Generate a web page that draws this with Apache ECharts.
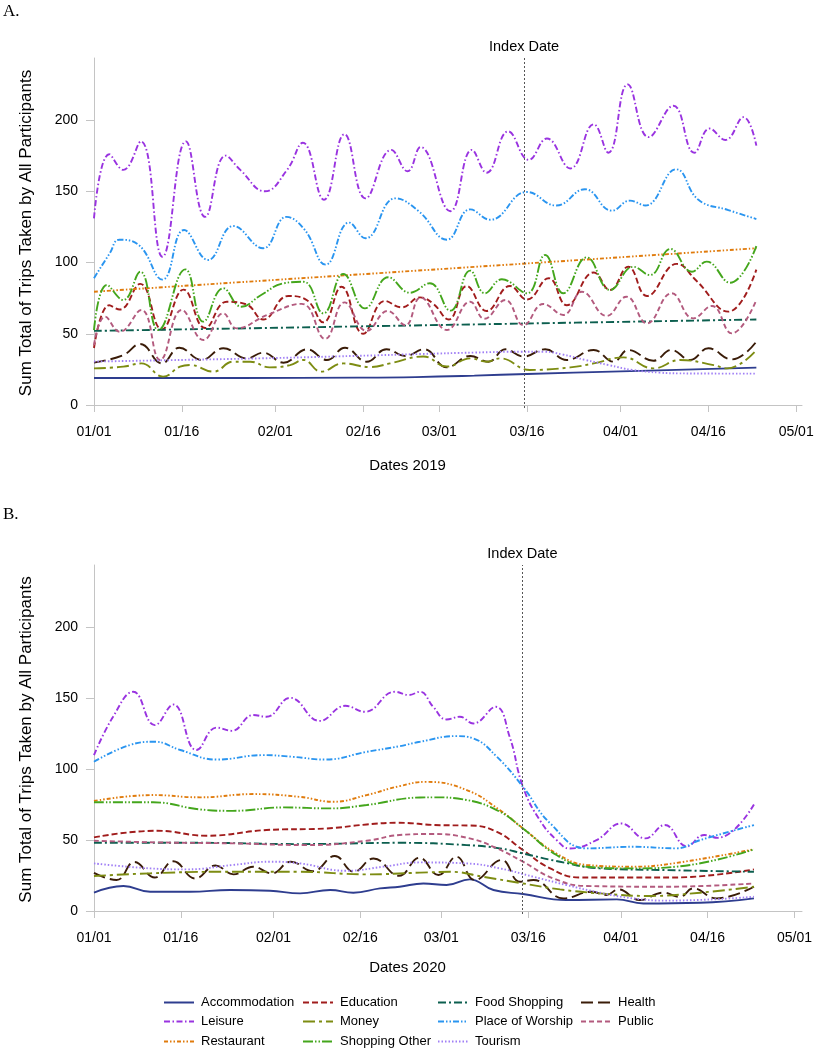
<!DOCTYPE html>
<html>
<head>
<meta charset="utf-8">
<script src="https://cdn.jsdelivr.net/npm/echarts@6/dist/echarts.min.js"></script>
<style>
html,body{margin:0;padding:0;background:#fff;}
#chart{width:815px;height:1050px;}
</style>
</head>
<body>
<div id="chart"></div>
<script>
// ---- tick positions (day offset from 01/01) and labels ----
const tickLabels = ['01/01','01/16','02/01','02/16','03/01','03/16','04/01','04/16','05/01'];
const ticks2019 = [0,15,31,46,59,74,90,105,120];
const ticks2020 = [0,15,31,46,60,75,91,106,121];
const yTicks = [0,50,100,150,200];
const indexDay2019 = 73.5;
const indexDay2020 = 74;

const categories = ['Accommodation','Education','Food Shopping','Health','Leisure','Money','Place of Worship','Public','Restaurant','Shopping Other','Tourism'];

// ---- 2019 (panel A): [day, trips] ----
const accommodation2019 = [[0,19],[25,19],[45,19.2],[55,19.6],[65,20.6],[74,21.8],[90,23.6],[113.2,26.2]];
const education2019 = [[0,40],[2.6,70],[4.4,67],[7.9,85],[11.6,53],[15.3,81],[19,54],[22.7,72.5],[26.1,70.5],[28.9,60],[33.2,76.5],[36.4,73.5],[39.2,58],[42.3,83],[46,50],[49.7,73],[52.6,68.5],[55.7,75.5],[58,71],[60.6,60],[63.7,83.5],[67.1,66],[71.1,83.5],[74,74],[77.7,89],[80.8,70],[85.4,93],[88.2,80.7],[91.3,97],[94.5,76.5],[99.6,99],[103,87],[108.4,65.5],[113.2,95]];
const food2019 = [[0,52],[40,54.8],[74,57.2],[113.2,60]];
const health2019 = [[0,29.7],[5,35],[7.9,42.8],[11.6,29.2],[14.6,40.2],[18.4,31.6],[22.1,39.8],[26.1,32.7],[28.9,36.7],[32.4,29.7],[36.4,39.1],[39.8,31.6],[42.9,40.2],[46.6,30.4],[50,39.1],[53.2,34.4],[56.4,39.1],[60.3,26.4],[64.3,34.4],[67.4,30.4],[70.3,39.1],[73.4,34],[77.1,39.1],[80.8,31.6],[85.4,38.6],[88.8,30.4],[91.3,38.6],[95.6,31.1],[98.7,38.6],[101.9,31.6],[105,39.8],[109,32],[113.2,44.5]];
const leisure2019 = [[0,131],[2.6,176],[5,165],[8,185],[11.7,104],[15.7,185],[19,132],[22.5,175],[25,165],[29.2,150],[33,165],[35.7,184],[39.3,144],[42.8,190],[46.4,145],[50.8,179],[53.6,164],[55.8,181],[60.9,136],[64.6,179],[67.1,163],[70.8,192],[74.3,172],[77.4,187],[81.4,166],[85.4,197],[87.9,177],[91.2,225],[94.8,188],[99,210],[102.6,177],[105.2,194],[107.9,186],[111,202],[113.2,182]];
const money2019 = [[0,25.7],[5,26.9],[8.1,29.2],[11.8,19.9],[14.7,26.9],[16.4,28.1],[20.4,23.4],[23.8,30.4],[26.7,30.4],[30,26.4],[33.5,28],[35.8,31.6],[38.8,23.4],[42.6,29.2],[47.2,26.6],[50.6,29.2],[56.3,34],[60.3,27],[64.3,32.7],[67.1,30.4],[69.4,32.7],[74.5,24.6],[81.4,26.4],[85.4,29.2],[90.5,33.4],[95.6,25.7],[100.2,31.6],[105.9,28],[108.2,25.7],[113.2,38.6]];
const worship2019 = [[0,89],[2.7,106.5],[4.3,116],[7.6,112.5],[11.7,88],[15.4,122.8],[19.5,101.8],[23.8,125.6],[28.9,110],[32.9,132],[36,123],[39.6,98.5],[43.6,128],[46.4,117],[51.5,145],[55.6,135.6],[60.3,116],[64.3,137.3],[67.7,130],[74,149.5],[79,140],[83.9,151.4],[88.5,136.4],[91.6,143.4],[94.2,140],[99.5,165.4],[103.3,144],[108.4,136.8],[113.2,130.5]];
const public2019 = [[0,42],[1.9,62],[4.4,51.4],[8.1,66.7],[11.3,31.6],[15,66.7],[18.7,45.6],[22.1,64.3],[24.4,53.8],[29.5,63],[35.5,71],[39.5,46.4],[42.8,72],[46.6,52],[50.2,66],[53.2,56],[55.8,75.5],[60.3,52.6],[64.3,72.5],[66.7,60.5],[70.3,73.7],[73.4,56],[76.8,70.9],[80.2,63.2],[83.4,79.5],[87.6,62.5],[91,76],[94.5,57.3],[98.7,78.4],[102.4,60.8],[105.6,69.5],[109,50.3],[113.2,73.7]];
const restaurant2019 = [[0,79.5],[74.2,99.4],[113.2,110]];
const shopping2019 = [[0,52.6],[2.2,84.2],[5,73.7],[7.9,93.5],[11,52.6],[15.6,95.2],[18.7,58.5],[22.1,81.9],[25.2,69],[28.5,77],[32.4,85.4],[35.8,86.5],[39.2,64.3],[42.6,91.9],[46.3,67.8],[50.3,89.6],[54,78.8],[57.4,85.4],[60.9,66.2],[64.3,94.3],[66.8,78.4],[69.7,88.2],[74,78.4],[77.1,105.3],[80.2,78.4],[84.2,103.6],[88.2,80.7],[92.2,97],[95,91.2],[98.5,109.5],[102.2,93.5],[104.7,100.6],[108.7,85.8],[113.2,111.5]];
const tourism2019 = [[0,30.5],[28,32.7],[45,34.5],[56,35.8],[65,36.8],[73,37.4],[77,37.4],[80,35.5],[84,31.6],[88,28],[92,24.6],[96.7,22.7],[100,22.2],[113.2,22]];

// ---- 2020 (panel B): [day, trips] ----
const accommodation2020 = [[0,12.9],[5.1,17.6],[9.7,13.6],[16.6,13.6],[23.5,14.8],[30.4,14.3],[35.6,12.4],[40.8,14.8],[44.8,12.9],[49.4,15.9],[52.8,17.1],[56.9,19.4],[60.9,18.3],[64.9,22.3],[69,14.8],[74.1,12],[81.6,7.7],[90.3,8.2],[94.9,5.3],[104.7,5.8],[114,8.9]];
const education2020 = [[0,51.8],[10.8,56.5],[19.5,53],[29.8,57],[40.2,58.1],[47.1,60.9],[52.3,62.1],[59.8,60.4],[64.9,60.2],[69.6,55.7],[74.1,42.9],[78.8,30],[83.9,23.6],[93.1,23.6],[100,23.6],[114,29.3]];
const food2020 = [[0,48],[18.3,48],[35.6,47.1],[52.8,48],[64.4,46.4],[70.1,44.1],[74.1,40.5],[80.5,34.7],[87.4,30],[98.9,28.8],[114,27.6]];
const health2020 = [[0,26.9],[3.9,21.8],[7,34.5],[10.5,23.6],[13.7,35],[17.5,22.9],[21,32],[24.1,25.8],[27.5,31.2],[30.7,26.5],[34,34.7],[37.8,28],[41.6,38.7],[44.9,27.6],[48.3,37],[52.7,24.8],[56.2,37.5],[59.5,25.3],[62.6,38.2],[65.8,21.8],[70.4,35.9],[73.6,20.6],[75.9,21.8],[81.1,8.9],[86,13.6],[88.5,11.3],[90.6,15.2],[94.3,7.7],[98.3,12.9],[101.2,10],[103.5,15.9],[107.5,8.9],[114,17.1]];
const leisure2020 = [[0,109.7],[3.3,136.7],[6.8,154.3],[10.5,130.8],[13.7,145.3],[17.7,113.3],[21.2,129.1],[23.8,126.8],[27.5,137.9],[29.8,136.7],[33.9,150],[39,133.8],[43.4,144.4],[46.8,140.2],[52,154.3],[54.4,152],[56.3,154.3],[58.6,143.7],[60.9,134.8],[63.2,136.7],[65.5,132],[69.4,143.7],[71.8,122.6],[74.1,87.4],[77,64],[79.9,50],[82.2,44],[86.8,49.9],[91.1,61.6],[95.2,51.1],[98.6,60.5],[102.4,45.5],[105.4,53.5],[107.7,51.5],[114,75]];
const money2020 = [[0,24.6],[9.7,26.5],[21.2,27.6],[35.6,27.6],[47.1,25.8],[56.3,27],[61.5,27.6],[67.2,24.1],[74.1,19.4],[80.5,15.2],[87.4,12.4],[96,10.6],[104.7,12.9],[114,17.1]];
const worship2020 = [[0,105],[6.2,116.8],[10.5,119.1],[14.9,113.3],[21.2,106.6],[29.2,109.7],[34.4,108.5],[39.9,106.6],[47.1,112],[52.8,116],[56.3,119.1],[62.6,123.1],[65.5,121.5],[69.6,108.5],[74.1,87.4],[78.8,61.7],[85.1,44.1],[93.1,45.2],[100.6,44.1],[104.7,49.9],[114,60.5]];
const public2020 = [[0,49.5],[10.8,48.3],[24,47.6],[36.7,46.4],[47.1,49.4],[52.8,53.5],[58.6,54.2],[64.9,51.1],[69.6,44.1],[74.1,34.7],[79.3,23],[85.1,17.6],[98.9,17.1],[114,19.4]];
const restaurant2020 = [[0,77.4],[10.2,81.6],[18.3,80],[27.5,82.3],[35.6,80.3],[41.3,76.9],[47.1,81.6],[52.8,87.9],[57.4,90.9],[64.4,85.1],[70.1,71],[74.1,58.1],[79.9,40.5],[85.1,32.4],[93.1,31.2],[100,33.5],[114,43.4]];
const shopping2020 = [[0,76.5],[10.2,76.5],[18.3,71.5],[24,70.5],[32.7,72.9],[40.8,72.2],[47.1,74.6],[56.3,79.9],[58.6,80],[64.4,78.1],[70.1,69.9],[74.1,58.1],[79.9,39.4],[85.1,31.2],[93.1,30],[100.6,31.2],[114,43.4]];
const tourism2020 = [[0,33.5],[9.7,30],[16,29.3],[24,32.4],[30.4,34.7],[35.6,33.5],[43.6,28.3],[50,31.2],[56.3,34.2],[64.4,33.5],[70.1,30],[75.9,24.1],[81.6,18.3],[87.4,12.9],[93.1,8.9],[98.9,7.3],[114,10]];

const data2019 = [accommodation2019, education2019, food2019, health2019, leisure2019, money2019, worship2019, public2019, restaurant2019, shopping2019, tourism2019];
const data2020 = [accommodation2020, education2020, food2020, health2020, leisure2020, money2020, worship2020, public2020, restaurant2020, shopping2020, tourism2020];

// ---- styles ----
const colors = ['#2e3d8f','#a01c1c','#0c5f4f','#3a1c08','#9933e0','#7d8c12','#2a95f0','#b35a7e','#e07b0c','#44a61c','#a07ff5'];
const dashes = [
  'solid',
  [6,3],
  [8,3,2,3],
  [12,5],
  [6,2.5,1.5,2.5],
  [12,4,3,4],
  [6,2,1.5,2,1.5,2],
  [5,3],
  [4,2,1.5,2,1.5,2],
  [10,2,1.5,2,1.5,2],
  [1.5,2]
];
const legendPos = [
  [163,996],[302,996],[437,996],[580,996],
  [163,1015],[302,1015],[437,1015],[580,1015],
  [163,1035],[302,1035],[437,1035]
];

const FONT = '"Liberation Sans", Arial, sans-serif';

function makeXAxis(gridIndex, ticks, max){
  const map = {};
  ticks.forEach((t,i)=>{ map[t] = tickLabels[i]; });
  return {
    type:'value', gridIndex:gridIndex, min:-0.34, max:max,
    splitLine:{show:false},
    axisLine:{show:true, lineStyle:{color:'#c4c4c4', width:1}},
    axisTick:{show:true, customValues:ticks, length:7, inside:false, lineStyle:{color:'#c4c4c4'}},
    axisLabel:{customValues:ticks, formatter:(v)=> map[v] !== undefined ? map[v] : '', fontSize:14, color:'#000', margin:17, fontFamily:FONT}
  };
}
function makeYAxis(gridIndex){
  return {
    type:'value', gridIndex:gridIndex, min:-2.1, max:243.5,
    name:'Sum Total of Trips Taken by All Participants', nameLocation:'middle', nameGap:57,
    nameTextStyle:{fontSize:17, color:'#000', fontFamily:FONT},
    splitLine:{show:false},
    axisLine:{show:true, lineStyle:{color:'#c4c4c4', width:1}},
    axisTick:{show:true, customValues:yTicks, length:8, lineStyle:{color:'#c4c4c4'}},
    axisLabel:{customValues:yTicks, fontSize:14, color:'#000', margin:14, fontFamily:FONT}
  };
}

const series = [];
[data2019, data2020].forEach((set, gi)=>{
  categories.forEach((name, i)=>{
    const s = {
      name:name, type:'line', xAxisIndex:gi, yAxisIndex:gi,
      data:set[i], smooth:0.45, showSymbol:false, symbol:'none',
      lineStyle:{color:colors[i], width:1.9, type:dashes[i]},
      itemStyle:{color:colors[i]},
      emphasis:{disabled:true}, z:2
    };
    if(i===0){
      s.markLine = {
        silent:true, symbol:['none','none'], animation:false,
        data:[{xAxis: gi===0 ? indexDay2019 : indexDay2020}],
        lineStyle:{type:[2,2], color:'#555', width:1},
        label:{show:true, position:'end', formatter:'Index Date', color:'#000', fontSize:14.5, distance:4, fontFamily:FONT}
      };
    }
    series.push(s);
  });
});

const legends = categories.map((name,i)=>({
  data:[name], left:legendPos[i][0], top:legendPos[i][1], padding:0,
  itemWidth:30, itemHeight:14, selectedMode:false,
  itemStyle:{opacity:0},
  textStyle:{fontSize:13, color:'#000', fontFamily:FONT, padding:[0,0,0,2]}
}));

const option = {
  animation:false,
  backgroundColor:'#fff',
  textStyle:{fontFamily:FONT},
  title:[
    {text:'A.', left:3, top:3, padding:0, textStyle:{fontFamily:'"Liberation Serif", "Times New Roman", serif', fontSize:17, fontWeight:'normal', color:'#000'}},
    {text:'B.', left:3, top:506, padding:0, textStyle:{fontFamily:'"Liberation Serif", "Times New Roman", serif', fontSize:17, fontWeight:'normal', color:'#000'}},
    {text:'Dates 2019', left:'center', top:458, padding:0, textStyle:{fontFamily:FONT, fontSize:15, fontWeight:'normal', color:'#000'}},
    {text:'Dates 2020', left:'center', top:960, padding:0, textStyle:{fontFamily:FONT, fontSize:15, fontWeight:'normal', color:'#000'}}
  ],
  legend:legends,
  grid:[
    {left:92, top:58, width:710, height:350, outerBoundsMode:'none', containLabel:false},
    {left:92, top:565, width:710, height:349, outerBoundsMode:'none', containLabel:false}
  ],
  xAxis:[makeXAxis(0, ticks2019, 121.0), makeXAxis(1, ticks2020, 122.3)],
  yAxis:[makeYAxis(0), makeYAxis(1)],
  series:series
};

const chart = echarts.init(document.getElementById('chart'), null, {renderer:'canvas'});
chart.setOption(option);
</script>
</body>
</html>
